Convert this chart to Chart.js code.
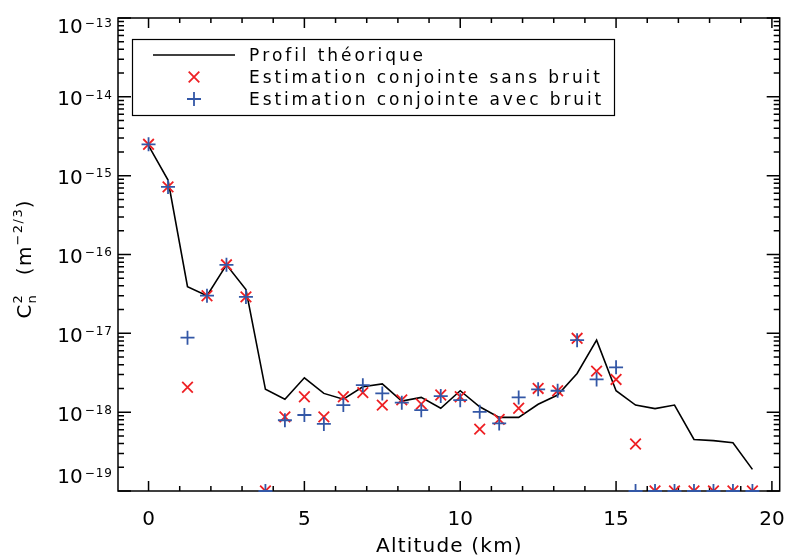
<!DOCTYPE html>
<html>
<head>
<meta charset="utf-8">
<script src="https://cdn.jsdelivr.net/npm/chart.js@4/dist/chart.umd.min.js"></script>
<style>
  html, body { margin: 0; padding: 0; background: #fff; }
</style>
</head>
<body>
<canvas id="cn2Chart" width="789" height="556"></canvas>
<script>
// altitudes (km)
const altitudes = [0, 0.625, 1.25, 1.875, 2.5, 3.125, 3.75, 4.375, 5, 5.625, 6.25, 6.875, 7.5, 8.125, 8.75, 9.375,
  10, 10.625, 11.25, 11.875, 12.5, 13.125, 13.75, 14.375, 15, 15.625, 16.25, 16.875, 17.5, 18.125, 18.75, 19.375];

const profilTheorique = [2.4e-15, 8.8e-16, 3.9e-17, 3.0e-17, 7.4e-17, 3.6e-17, 1.95e-18, 1.46e-18, 2.73e-18, 1.73e-18,
  1.46e-18, 2.1e-18, 2.28e-18, 1.38e-18, 1.54e-18, 1.12e-18, 1.87e-18, 1.17e-18, 8.6e-19, 8.6e-19, 1.26e-18, 1.65e-18,
  3.1e-18, 8.2e-18, 1.87e-18, 1.23e-18, 1.11e-18, 1.23e-18, 4.5e-19, 4.35e-19, 4.1e-19, 1.88e-19];

const sansBruit = [2.5e-15, 7.2e-16, 2.07e-18, 3.0e-17, 7.4e-17, 2.9e-17, 1e-19, 8.7e-19, 1.57e-18, 8.7e-19,
  1.57e-18, 1.77e-18, 1.23e-18, 1.43e-18, 1.27e-18, 1.65e-18, 1.57e-18, 6.1e-19, 8.1e-19, 1.12e-18, 2.0e-18, 1.87e-18,
  8.65e-18, 3.32e-18, 2.6e-18, 3.95e-19, 1e-19, 1e-19, 1e-19, 1e-19, 1e-19, 1e-19];

const avecBruit = [2.5e-15, 7.2e-16, 8.8e-18, 3.0e-17, 7.4e-17, 2.9e-17, 1e-19, 7.9e-19, 9.2e-19, 7.1e-19,
  1.23e-18, 2.2e-18, 1.73e-18, 1.32e-18, 1.06e-18, 1.6e-18, 1.42e-18, 1.01e-18, 7.2e-19, 1.54e-18, 1.95e-18, 1.87e-18,
  8.2e-18, 2.6e-18, 3.7e-18, 1e-19, 1e-19, 1e-19, 1e-19, 1e-19, 1e-19, 1e-19];

const xTicks = [0, 5, 10, 15, 20];
const xTicksMineurs = [1, 2, 3, 4, 6, 7, 8, 9, 11, 12, 13, 14, 16, 17, 18, 19];
const yExposants = [-19, -18, -17, -16, -15, -14, -13];
const yMantissesMineures = [2, 3, 4, 5, 6, 7, 8, 9];

const ROUGE = '#ee2024';
const BLEU = '#3357a6';
const POLICE = '"DejaVu Sans", sans-serif';

function points(valeurs) {
  return altitudes.map((a, i) => ({ x: a, y: valeurs[i] }));
}

// texte avec espacement des lettres (la police d'origine est très aérée)
function largeurTexte(ctx, txt, esp) {
  let w = 0;
  for (const ch of txt) w += ctx.measureText(ch).width + esp;
  return w - esp;
}
function ecrire(ctx, txt, x, y, esp) {
  let cx = x;
  for (const ch of txt) {
    ctx.fillText(ch, cx, y);
    cx += ctx.measureText(ch).width + esp;
  }
  return cx - esp;
}

const cadrePlugin = {
  id: 'cadre',
  beforeDatasetsDraw(chart) {
    const { ctx, chartArea: a, scales: { x, y } } = chart;
    ctx.save();
    ctx.strokeStyle = '#000';
    ctx.lineWidth = 1.5;
    ctx.strokeRect(a.left, a.top, a.right - a.left, a.bottom - a.top);

    ctx.beginPath();
    xTicks.forEach(v => {
      const px = x.getPixelForValue(v);
      ctx.moveTo(px, a.bottom); ctx.lineTo(px, a.bottom - 10);
      ctx.moveTo(px, a.top); ctx.lineTo(px, a.top + 10);
    });
    xTicksMineurs.forEach(v => {
      const px = x.getPixelForValue(v);
      ctx.moveTo(px, a.bottom); ctx.lineTo(px, a.bottom - 5);
      ctx.moveTo(px, a.top); ctx.lineTo(px, a.top + 5);
    });
    yExposants.forEach(e => {
      const py = y.getPixelForValue(Math.pow(10, e));
      ctx.moveTo(a.left, py); ctx.lineTo(a.left + 13, py);
      ctx.moveTo(a.right, py); ctx.lineTo(a.right - 13, py);
      if (e < -13) {
        yMantissesMineures.forEach(m => {
          const pm = y.getPixelForValue(m * Math.pow(10, e));
          ctx.moveTo(a.left, pm); ctx.lineTo(a.left + 6, pm);
          ctx.moveTo(a.right, pm); ctx.lineTo(a.right - 6, pm);
        });
      }
    });
    ctx.stroke();
    ctx.restore();
  },
  afterDraw(chart) {
    const { ctx, chartArea: a, scales: { x, y } } = chart;
    ctx.save();
    ctx.fillStyle = '#000';
    ctx.textBaseline = 'alphabetic';

    // graduations x
    ctx.font = '20px ' + POLICE;
    xTicks.forEach(v => {
      const px = x.getPixelForValue(v);
      const txt = String(v);
      const w = largeurTexte(ctx, txt, 0);
      ecrire(ctx, txt, Math.min(px - w / 2, 785 - w), a.bottom + 34, 0);
    });

    // graduations y : 10^e
    yExposants.forEach(e => {
      const py = y.getPixelForValue(Math.pow(10, e));
      const base = Math.min(Math.max(py + 8.5, a.top + 15.3), a.bottom - 7.7);
      ctx.font = '12px ' + POLICE;
      const exp = '\u2212' + String(-e);
      const we = largeurTexte(ctx, exp, 1);
      const xe = a.left - 6 - we;
      ecrire(ctx, exp, xe, base - 6.8, 1);
      ctx.font = '20px ' + POLICE;
      const w10 = largeurTexte(ctx, '10', 0);
      ecrire(ctx, '10', xe - 2 - w10, base, 0);
    });

    // titre x
    ctx.font = '20px ' + POLICE;
    const tx = 'Altitude (km)';
    const wx = largeurTexte(ctx, tx, 1.2);
    ecrire(ctx, tx, (a.left + a.right) / 2 - wx / 2, 552, 1.2);

    // titre y : C_n^2 (m^-2/3)
    ctx.save();
    ctx.translate(31, (a.top + a.bottom) / 2 + 5);
    ctx.rotate(-Math.PI / 2);
    ctx.font = '20px ' + POLICE;
    const wC = largeurTexte(ctx, 'C', 0);
    const wPar = largeurTexte(ctx, '(m', 1.5);
    const wFerme = largeurTexte(ctx, ')', 0);
    ctx.font = '13px ' + POLICE;
    const w2 = Math.max(largeurTexte(ctx, '2', 0), largeurTexte(ctx, 'n', 0));
    const wExp = largeurTexte(ctx, '\u22122/3', 1.5);
    const total = wC + 1 + w2 + 20 + wPar + 1 + wExp + 1 + wFerme;
    let cx = -total / 2;
    ctx.font = '20px ' + POLICE;
    cx = ecrire(ctx, 'C', cx, 0, 0) + 1;
    ctx.font = '13px ' + POLICE;
    ecrire(ctx, '2', cx, -9, 0);
    ecrire(ctx, 'n', cx, 5, 0);
    cx += w2 + 20;
    ctx.font = '20px ' + POLICE;
    cx = ecrire(ctx, '(m', cx, 0, 1.5) + 1;
    ctx.font = '13px ' + POLICE;
    cx = ecrire(ctx, '\u22122/3', cx, -9, 1.5) + 1;
    ctx.font = '20px ' + POLICE;
    ecrire(ctx, ')', cx, 0, 0);
    ctx.restore();

    // légende
    const lx = a.left + 14, ly = a.top + 21;
    ctx.strokeStyle = '#000';
    ctx.lineWidth = 1.2;
    ctx.strokeRect(lx + 0.5, ly + 0.5, 482, 76);
    const ds = chart.data.datasets;
    ctx.lineWidth = 1.6;
    ctx.beginPath();
    ctx.moveTo(lx + 21, ly + 16); ctx.lineTo(lx + 103, ly + 16);
    ctx.stroke();
    [ds[1], ds[2]].forEach((d, i) => {
      ctx.strokeStyle = d.pointBorderColor;
      ctx.fillStyle = d.pointBorderColor;
      ctx.lineWidth = d.pointBorderWidth;
      Chart.helpers.drawPoint(ctx, { pointStyle: d.pointStyle, radius: d.pointRadius, rotation: 0, borderWidth: d.pointBorderWidth },
        lx + 62, ly + 38 + i * 22);
    });
    ctx.fillStyle = '#000';
    ctx.font = '17px ' + POLICE;
    ds.forEach((d, i) => {
      ecrire(ctx, d.label, lx + 117, ly + 22 + i * 22, 2.9);
    });
    ctx.restore();
  }
};

new Chart(document.getElementById('cn2Chart'), {
  type: 'scatter',
  data: {
    datasets: [
      {
        label: 'Profil théorique',
        data: points(profilTheorique),
        showLine: true,
        borderColor: '#000',
        borderWidth: 1.6,
        pointRadius: 0,
        tension: 0,
        order: 3
      },
      {
        label: 'Estimation conjointe sans bruit',
        data: points(sansBruit),
        pointStyle: 'crossRot',
        pointRadius: 7.5,
        pointBorderColor: ROUGE,
        pointBackgroundColor: ROUGE,
        pointBorderWidth: 1.8,
        clip: { left: 0, top: 0, right: 0, bottom: 1 },
        order: 2
      },
      {
        label: 'Estimation conjointe avec bruit',
        data: points(avecBruit),
        pointStyle: 'cross',
        pointRadius: 7,
        pointBorderColor: BLEU,
        pointBackgroundColor: BLEU,
        pointBorderWidth: 1.8,
        clip: { left: 0, top: 0, right: 0, bottom: 1 },
        order: 1
      }
    ]
  },
  options: {
    responsive: false,
    animation: false,
    events: [],
    layout: { padding: { left: 118, top: 18, right: 5, bottom: 65 } },
    plugins: { legend: { display: false }, tooltip: { enabled: false } },
    scales: {
      x: { type: 'linear', min: -0.98, max: 20.25, display: false },
      y: { type: 'logarithmic', min: 1e-19, max: 1e-13, display: false }
    }
  },
  plugins: [cadrePlugin]
});
</script>
</body>
</html>
